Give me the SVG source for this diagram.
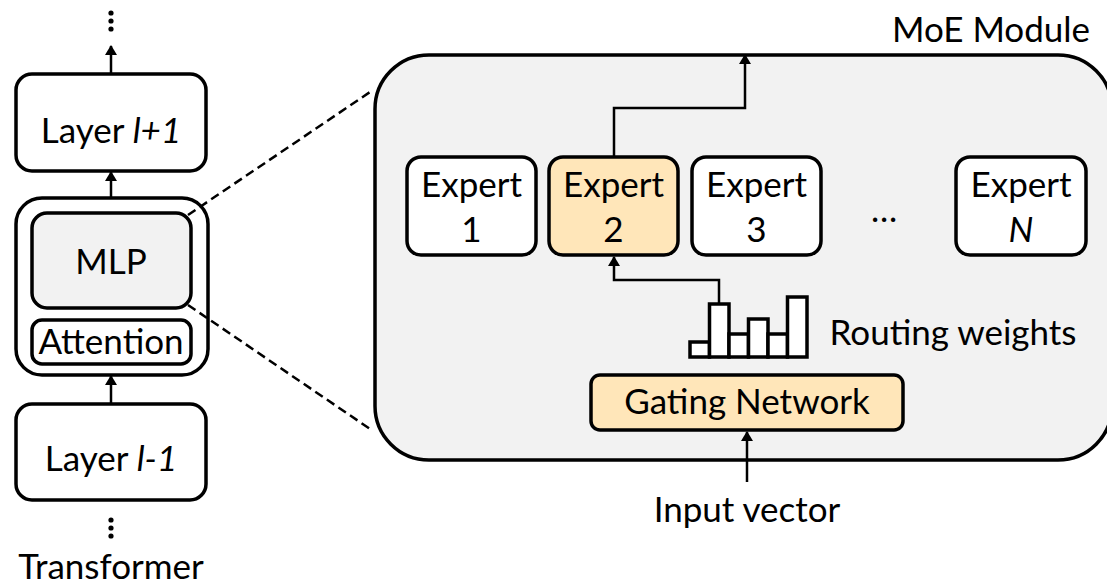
<svg xmlns="http://www.w3.org/2000/svg" width="1107" height="588" viewBox="0 0 1107 588">
  <defs>
    <marker id="arrow" viewBox="0 0 10 12" refX="9" refY="6" markerWidth="11" markerHeight="12" markerUnits="userSpaceOnUse" orient="auto">
      <path d="M0,0 L10,6 L0,12 Z" fill="#000"/>
    </marker>
    <style>
      text { font-family: "Lato", "Liberation Sans", sans-serif; font-size: 35px; fill: #000; text-anchor: middle; }
      .box { fill: #fff; stroke: #000; stroke-width: 3.5; }
      .grey { fill: #f2f2f2; }
      .hl { fill: #ffe6b9; }
      .bar { stroke: #000; stroke-width: 3.5; fill: #fff; }
      .link { fill: none; stroke: #000; stroke-width: 2.5; }
      .dash { fill: none; stroke: #000; stroke-width: 2.5; stroke-dasharray: 9 5; }
      .dot { fill: #000; }
    </style>
  </defs>

  <!-- transformer stack -->
  <g id="dots-top">
    <circle class="dot" cx="111" cy="13" r="2.6"/>
    <circle class="dot" cx="111" cy="21" r="2.6"/>
    <circle class="dot" cx="111" cy="29" r="2.6"/>
  </g>
  <g id="layer-next">
    <rect class="box" x="16" y="74" width="190" height="97" rx="16"/>
    <text x="111" y="143">Layer <tspan font-style="italic">l+1</tspan></text>
  </g>
  <g id="block">
    <rect class="box" x="16" y="198" width="192" height="177" rx="26"/>
  </g>
  <g id="mlp">
    <rect class="box grey" x="32" y="213" width="159" height="95" rx="15"/>
    <text x="111" y="274">MLP</text>
  </g>
  <g id="attention">
    <rect class="box" x="32" y="320" width="159" height="44" rx="10"/>
    <text x="111" y="354">Attention</text>
  </g>
  <g id="layer-prev">
    <rect class="box" x="16" y="404" width="190" height="96" rx="16"/>
    <text x="111" y="471">Layer <tspan font-style="italic">l-1</tspan></text>
  </g>
  <g id="dots-bottom">
    <circle class="dot" cx="111" cy="520" r="2.6"/>
    <circle class="dot" cx="111" cy="528" r="2.6"/>
    <circle class="dot" cx="111" cy="536" r="2.6"/>
  </g>
  <g id="transformer-label">
    <text x="111" y="579">Transformer</text>
  </g>

  <!-- MoE module -->
  <g id="moe">
    <rect class="box grey" x="375" y="55" width="737" height="405" rx="54"/>
    <text x="991" y="42">MoE Module</text>
  </g>
  <g id="expert-1">
    <rect class="box" x="407" y="157" width="129" height="98" rx="14"/>
    <text x="471.5" y="197">Expert</text>
    <text x="471.5" y="242">1</text>
  </g>
  <g id="expert-2">
    <rect class="box hl" x="549" y="157" width="129" height="98" rx="14"/>
    <text x="613.5" y="197">Expert</text>
    <text x="613.5" y="242">2</text>
  </g>
  <g id="expert-3">
    <rect class="box" x="692" y="157" width="129" height="98" rx="14"/>
    <text x="756.5" y="197">Expert</text>
    <text x="756.5" y="242">3</text>
  </g>
  <g id="ellipsis">
    <text x="885" y="222" font-style="italic">…</text>
  </g>
  <g id="expert-n">
    <rect class="box" x="956" y="157" width="130" height="98" rx="14"/>
    <text x="1021" y="197">Expert</text>
    <text x="1021" y="242" font-style="italic">N</text>
  </g>
  <g id="routing-weights">
    <rect class="bar" x="690" y="342" width="19.5" height="15"/>
    <rect class="bar hl" x="709.5" y="304" width="19.5" height="53"/>
    <rect class="bar" x="729" y="334" width="19.5" height="23"/>
    <rect class="bar" x="748.5" y="319" width="19.5" height="38"/>
    <rect class="bar" x="768" y="334" width="19.5" height="23"/>
    <rect class="bar" x="787.5" y="297" width="19.5" height="60"/>
    <text x="953" y="345">Routing weights</text>
  </g>
  <g id="gating">
    <rect class="box hl" x="591" y="375" width="312" height="55" rx="9"/>
    <text x="747" y="414">Gating Network</text>
  </g>
  <g id="input-label">
    <text x="747" y="522">Input vector</text>
  </g>

  <!-- connectors -->
  <g id="connectors">
    <line class="link" x1="111" y1="73" x2="111" y2="46" marker-end="url(#arrow)"/>
    <line class="link" x1="111" y1="197" x2="111" y2="172" marker-end="url(#arrow)"/>
    <line class="link" x1="111" y1="403" x2="111" y2="376" marker-end="url(#arrow)"/>
    <path class="dash" d="M188,215 L373,90"/>
    <path class="dash" d="M188,305 L373,431"/>
    <path class="link" d="M614,156 V108 H745 V55" marker-end="url(#arrow)"/>
    <path class="link" d="M719,303 V280 H614 V257" marker-end="url(#arrow)"/>
    <line class="link" x1="747" y1="482" x2="747" y2="432" marker-end="url(#arrow)"/>
  </g>
</svg>
